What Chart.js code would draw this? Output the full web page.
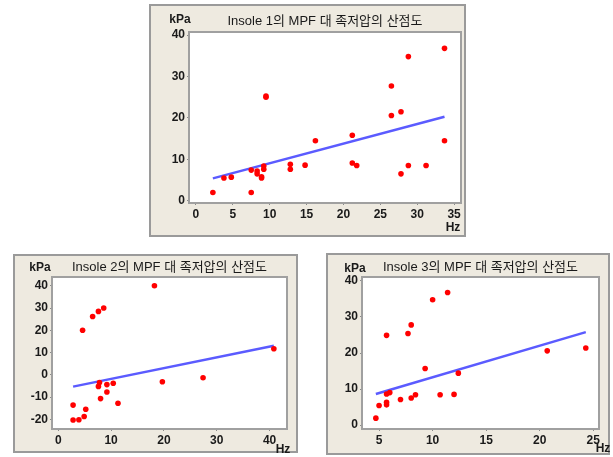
<!DOCTYPE html>
<html>
<head>
<meta charset="utf-8">
<script src="https://cdn.jsdelivr.net/npm/chart.js@4"></script>
<style>
body { margin: 0; background: #fff; }
canvas { position: absolute; }
</style>
</head>
<body>
<canvas id="c1" width="317" height="233" style="left:149px;top:4px"></canvas>
<canvas id="c2" width="285" height="199" style="left:13px;top:254px"></canvas>
<canvas id="c3" width="284" height="202" style="left:326px;top:253px"></canvas>
<script>
// Insole 1
var title1 = "Insole 1의 MPF 대 족저압의 산점도";
var hz1  = [2.3, 3.8, 4.8, 7.5, 7.5, 8.3, 8.3, 8.9, 8.9, 9.2, 9.2, 9.5, 9.5, 12.8, 12.8, 14.8, 16.2, 21.2, 21.2, 21.8, 26.5, 26.5, 27.8, 27.8, 28.8, 28.8, 31.2, 33.7, 33.7];
var kpa1 = [2.0, 5.5, 5.7, 7.4, 2.0, 7.2, 6.5, 5.5, 5.8, 8.4, 7.6, 25.3, 25.0, 8.8, 7.6, 8.6, 14.5, 15.8, 9.1, 8.5, 27.7, 20.6, 21.5, 6.5, 34.8, 8.5, 8.5, 36.8, 14.5];
var fitHz1  = [2.3, 33.7];
var fitKpa1 = [5.4, 20.3];
var xTicks1 = [0, 5, 10, 15, 20, 25, 30, 35];
var yTicks1 = [0, 10, 20, 30, 40];

// Insole 2
var title2 = "Insole 2의 MPF 대 족저압의 산점도";
var hz2  = [18.2, 4.6, 6.5, 7.6, 8.6, 2.8, 2.8, 3.9, 4.9, 5.2, 7.6, 7.8, 8.0, 9.2, 9.2, 10.4, 11.3, 19.7, 27.4, 40.8];
var kpa2 = [40.0, 20.0, 26.2, 28.5, 30.0, -13.6, -20.3, -20.2, -18.7, -15.5, -5.2, -3.5, -10.7, -4.4, -7.7, -3.8, -12.8, -3.1, -1.3, 11.7];
var fitHz2  = [2.8, 40.8];
var fitKpa2 = [-5.3, 13.1];
var xTicks2 = [0, 10, 20, 30, 40];
var yTicks2 = [-20, -10, 0, 10, 20, 30, 40];

// Insole 3
var title3 = "Insole 3의 MPF 대 족저압의 산점도";
var hz3  = [4.7, 5.0, 5.7, 5.7, 5.7, 5.7, 6.0, 7.0, 7.7, 8.0, 8.0, 8.4, 9.3, 10.0, 10.7, 11.4, 12.0, 12.4, 20.7, 24.3];
var kpa3 = [1.9, 5.4, 6.3, 5.6, 24.9, 8.6, 9.0, 7.1, 25.4, 27.8, 7.5, 8.4, 15.7, 34.8, 8.4, 36.8, 8.5, 14.4, 20.6, 21.4];
var fitHz3  = [4.7, 24.3];
var fitKpa3 = [8.6, 25.8];
var xTicks3 = [5, 10, 15, 20, 25];
var yTicks3 = [0, 10, 20, 30, 40];

var FONT = "'Liberation Sans', Arial, 'Noto Sans CJK KR', sans-serif";

function toPoints(xs, ys) {
	var pts = [];
	for (var i = 0; i < xs.length; i++) {
		pts.push({x: xs[i], y: ys[i]});
	}
	return pts;
}

function makePanel(id, title, hz, kpa, fitHz, fitKpa, xTicks, yTicks, xRange, yRange, box, lbl) {

	var panelPlugin = {
		id: 'panel' + id,
		beforeDraw: function (chart) {
			var c = chart.ctx;
			var a = chart.chartArea;
			c.save();
			c.fillStyle = '#EEEAE0';
			c.fillRect(0, 0, chart.width, chart.height);
			c.strokeStyle = '#9A9A9A';
			c.lineWidth = 2;
			c.strokeRect(1, 1, chart.width - 2, chart.height - 2);
			c.fillStyle = '#fff';
			c.fillRect(a.left, a.top, a.right - a.left, a.bottom - a.top);
			c.restore();
		},
		beforeDatasetsDraw: function (chart) {
			var c = chart.ctx;
			var a = chart.chartArea;
			c.save();
			c.strokeStyle = '#A0A0A0';
			c.lineWidth = 2;
			c.strokeRect(a.left - 1, a.top - 1, a.right - a.left + 2, a.bottom - a.top + 2);
			c.restore();
		},
		afterDraw: function (chart) {
			var c = chart.ctx;
			var a = chart.chartArea;
			c.save();
			c.fillStyle = '#1a1a1a';
			c.textBaseline = 'middle';
			c.textAlign = 'center';
			c.font = "13px " + FONT;
			c.fillText(title, (a.left + a.right) / 2, a.top - lbl.titleGap);
			c.font = "bold 12px " + FONT;
			c.fillText('kPa', lbl.kpaX, lbl.kpaY);
			c.fillText('Hz', lbl.hzX, lbl.hzY);
			c.restore();
		}
	};

	new Chart(document.getElementById(id), {
		type: 'scatter',
		data: {
			datasets: [
				{
					data: toPoints(hz, kpa),
					backgroundColor: '#FF0000',
					borderWidth: 0,
					pointRadius: 2.8
				},
				{
					type: 'line',
					data: toPoints(fitHz, fitKpa),
					borderColor: '#5B5BFF',
					borderWidth: 2.5,
					pointRadius: 0,
					fill: false
				}
			]
		},
		options: {
			responsive: false,
			animation: false,
			layout: {padding: {left: 0, top: box.top, right: box.right, bottom: 0}},
			plugins: {legend: {display: false}, tooltip: {enabled: false}, title: {display: false}},
			scales: {
				x: {
					type: 'linear',
					min: xRange[0],
					max: xRange[1],
					afterBuildTicks: function (s) { s.ticks = xTicks.map(function (v) { return {value: v}; }); },
					afterFit: function (s) { s.height = box.bottom; },
					border: {display: false},
					grid: {drawOnChartArea: false, drawTicks: true, tickLength: 3, color: '#8A8A8A'},
					ticks: {padding: 2, color: '#1a1a1a', autoSkip: false, maxRotation: 0, font: {size: 12, weight: 'bold', family: FONT}}
				},
				y: {
					type: 'linear',
					min: yRange[0],
					max: yRange[1],
					afterBuildTicks: function (s) { s.ticks = yTicks.map(function (v) { return {value: v}; }); },
					afterFit: function (s) { s.width = box.left; },
					border: {display: false},
					grid: {drawOnChartArea: false, drawTicks: true, tickLength: 3, color: '#8A8A8A'},
					ticks: {padding: 2, color: '#1a1a1a', autoSkip: false, font: {size: 12, weight: 'bold', family: FONT}}
				}
			}
		},
		plugins: [panelPlugin]
	});
}

makePanel('c1', title1, hz1, kpa1, fitHz1, fitKpa1, xTicks1, yTicks1, [-0.8, 35.8], [-0.3, 40.5],
	{left: 41, top: 29, right: 6, bottom: 35}, {titleGap: 12, kpaX: 31, kpaY: 16, hzX: 304, hzY: 224});
makePanel('c2', title2, hz2, kpa2, fitHz2, fitKpa2, xTicks2, yTicks2, [-1.0, 43.1], [-23.9, 43.5],
	{left: 40, top: 24, right: 12, bottom: 25}, {titleGap: 11, kpaX: 27, kpaY: 14, hzX: 270, hzY: 196});
makePanel('c3', title3, hz3, kpa3, fitHz3, fitKpa3, xTicks3, yTicks3, [3.5, 25.44], [-0.83, 40.83],
	{left: 37, top: 25, right: 12, bottom: 27}, {titleGap: 11, kpaX: 29, kpaY: 16, hzX: 277, hzY: 196});
</script>
</body>
</html>
